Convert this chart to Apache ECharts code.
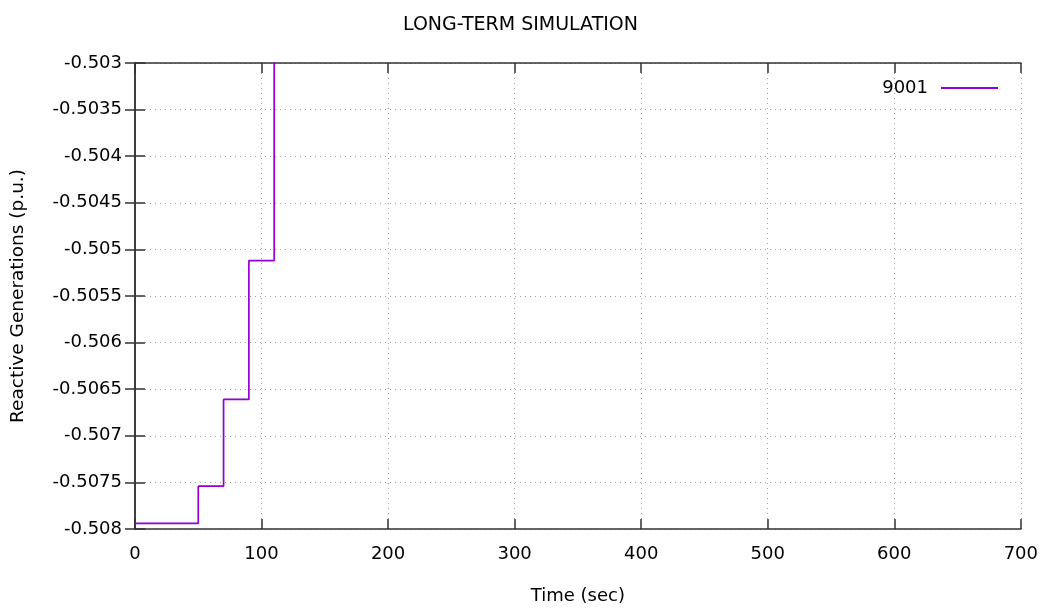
<!DOCTYPE html>
<html>
<head>
<meta charset="utf-8">
<script src="https://cdn.jsdelivr.net/npm/echarts@6/dist/echarts.min.js"></script>
<style>html,body{margin:0;padding:0;background:#fff;}#c{width:1041px;height:610px;}</style>
</head>
<body>
<div id="c"></div>
<script>
const seriesName = '9001';
const times = [0, 50, 70, 90, 110];
const values = [-0.50794, -0.50754, -0.50661, -0.50512, -0.5028];
const xTicks = [0, 100, 200, 300, 400, 500, 600, 700];
const yTicks = [-0.508, -0.5075, -0.507, -0.5065, -0.506, -0.5055, -0.505, -0.5045, -0.504, -0.5035, -0.503];

const FONT = 'DejaVu Sans';
const FS = 18;
const chart = echarts.init(document.getElementById('c'));
const axisCommonX = {
  type: 'value', min: xTicks[0], max: xTicks[xTicks.length - 1], interval: 100,
  axisLine: { show: true, lineStyle: { color: '#333', width: 1.5 } },
  axisTick: { show: true, inside: true, length: 10, lineStyle: { color: '#333', width: 1.5 } }
};
const axisCommonY = {
  type: 'value', min: yTicks[0], max: yTicks[yTicks.length - 1], interval: 0.0005,
  axisLine: { show: true, lineStyle: { color: '#333', width: 1.5 } },
  axisTick: { show: true, inside: true, length: 10, lineStyle: { color: '#333', width: 1.5 } }
};
const option = {
  backgroundColor: '#fff',
  animation: false,
  title: {
    text: 'LONG-TERM SIMULATION', left: 'center', top: 11,
    textStyle: { fontFamily: FONT, fontSize: 19, fontWeight: 'normal', color: '#000' }
  },
  legend: {
    data: [seriesName], right: 38, top: 74, align: 'right',
    icon: 'rect', itemWidth: 57, itemHeight: 2, itemGap: 12,
    textStyle: { fontFamily: FONT, fontSize: FS, color: '#000', padding: [0, 8, 0, 0] }
  },
  grid: { left: 135, right: 20, top: 63, bottom: 77 },
  xAxis: [
    Object.assign({}, axisCommonX, {
      position: 'bottom',
      name: 'Time (sec)', nameLocation: 'middle', nameGap: 58,
      nameTextStyle: { fontFamily: FONT, fontSize: FS, color: '#000' },
      axisLabel: { fontFamily: FONT, fontSize: FS, color: '#000', margin: 16 },
      splitLine: { show: true, lineStyle: { color: '#a0a0a0', type: [1, 4], width: 1 } }
    }),
    Object.assign({}, axisCommonX, {
      position: 'top', axisLabel: { show: false }, splitLine: { show: false }
    })
  ],
  yAxis: [
    Object.assign({}, axisCommonY, {
      position: 'left',
      name: 'Reactive Generations (p.u.)', nameLocation: 'middle', nameGap: 107,
      nameTextStyle: { fontFamily: FONT, fontSize: 18.5, color: '#000' },
      axisLabel: {
        fontFamily: FONT, fontSize: FS, color: '#000', margin: 13,
        formatter: v => String(parseFloat(v.toFixed(4)))
      },
      splitLine: { show: true, lineStyle: { color: '#a0a0a0', type: [1, 4], width: 1 } }
    }),
    Object.assign({}, axisCommonY, {
      position: 'right', axisLabel: { show: false }, splitLine: { show: false }
    })
  ],
  series: [{
    name: seriesName, type: 'line', step: 'end', showSymbol: false, clip: true,
    xAxisIndex: 0, yAxisIndex: 0,
    data: times.map((t, i) => [t, values[i]]),
    lineStyle: { color: '#9400d3', width: 1.7 }, itemStyle: { color: '#9400d3' }
  }]
};
chart.setOption(option);
</script>
</body>
</html>
